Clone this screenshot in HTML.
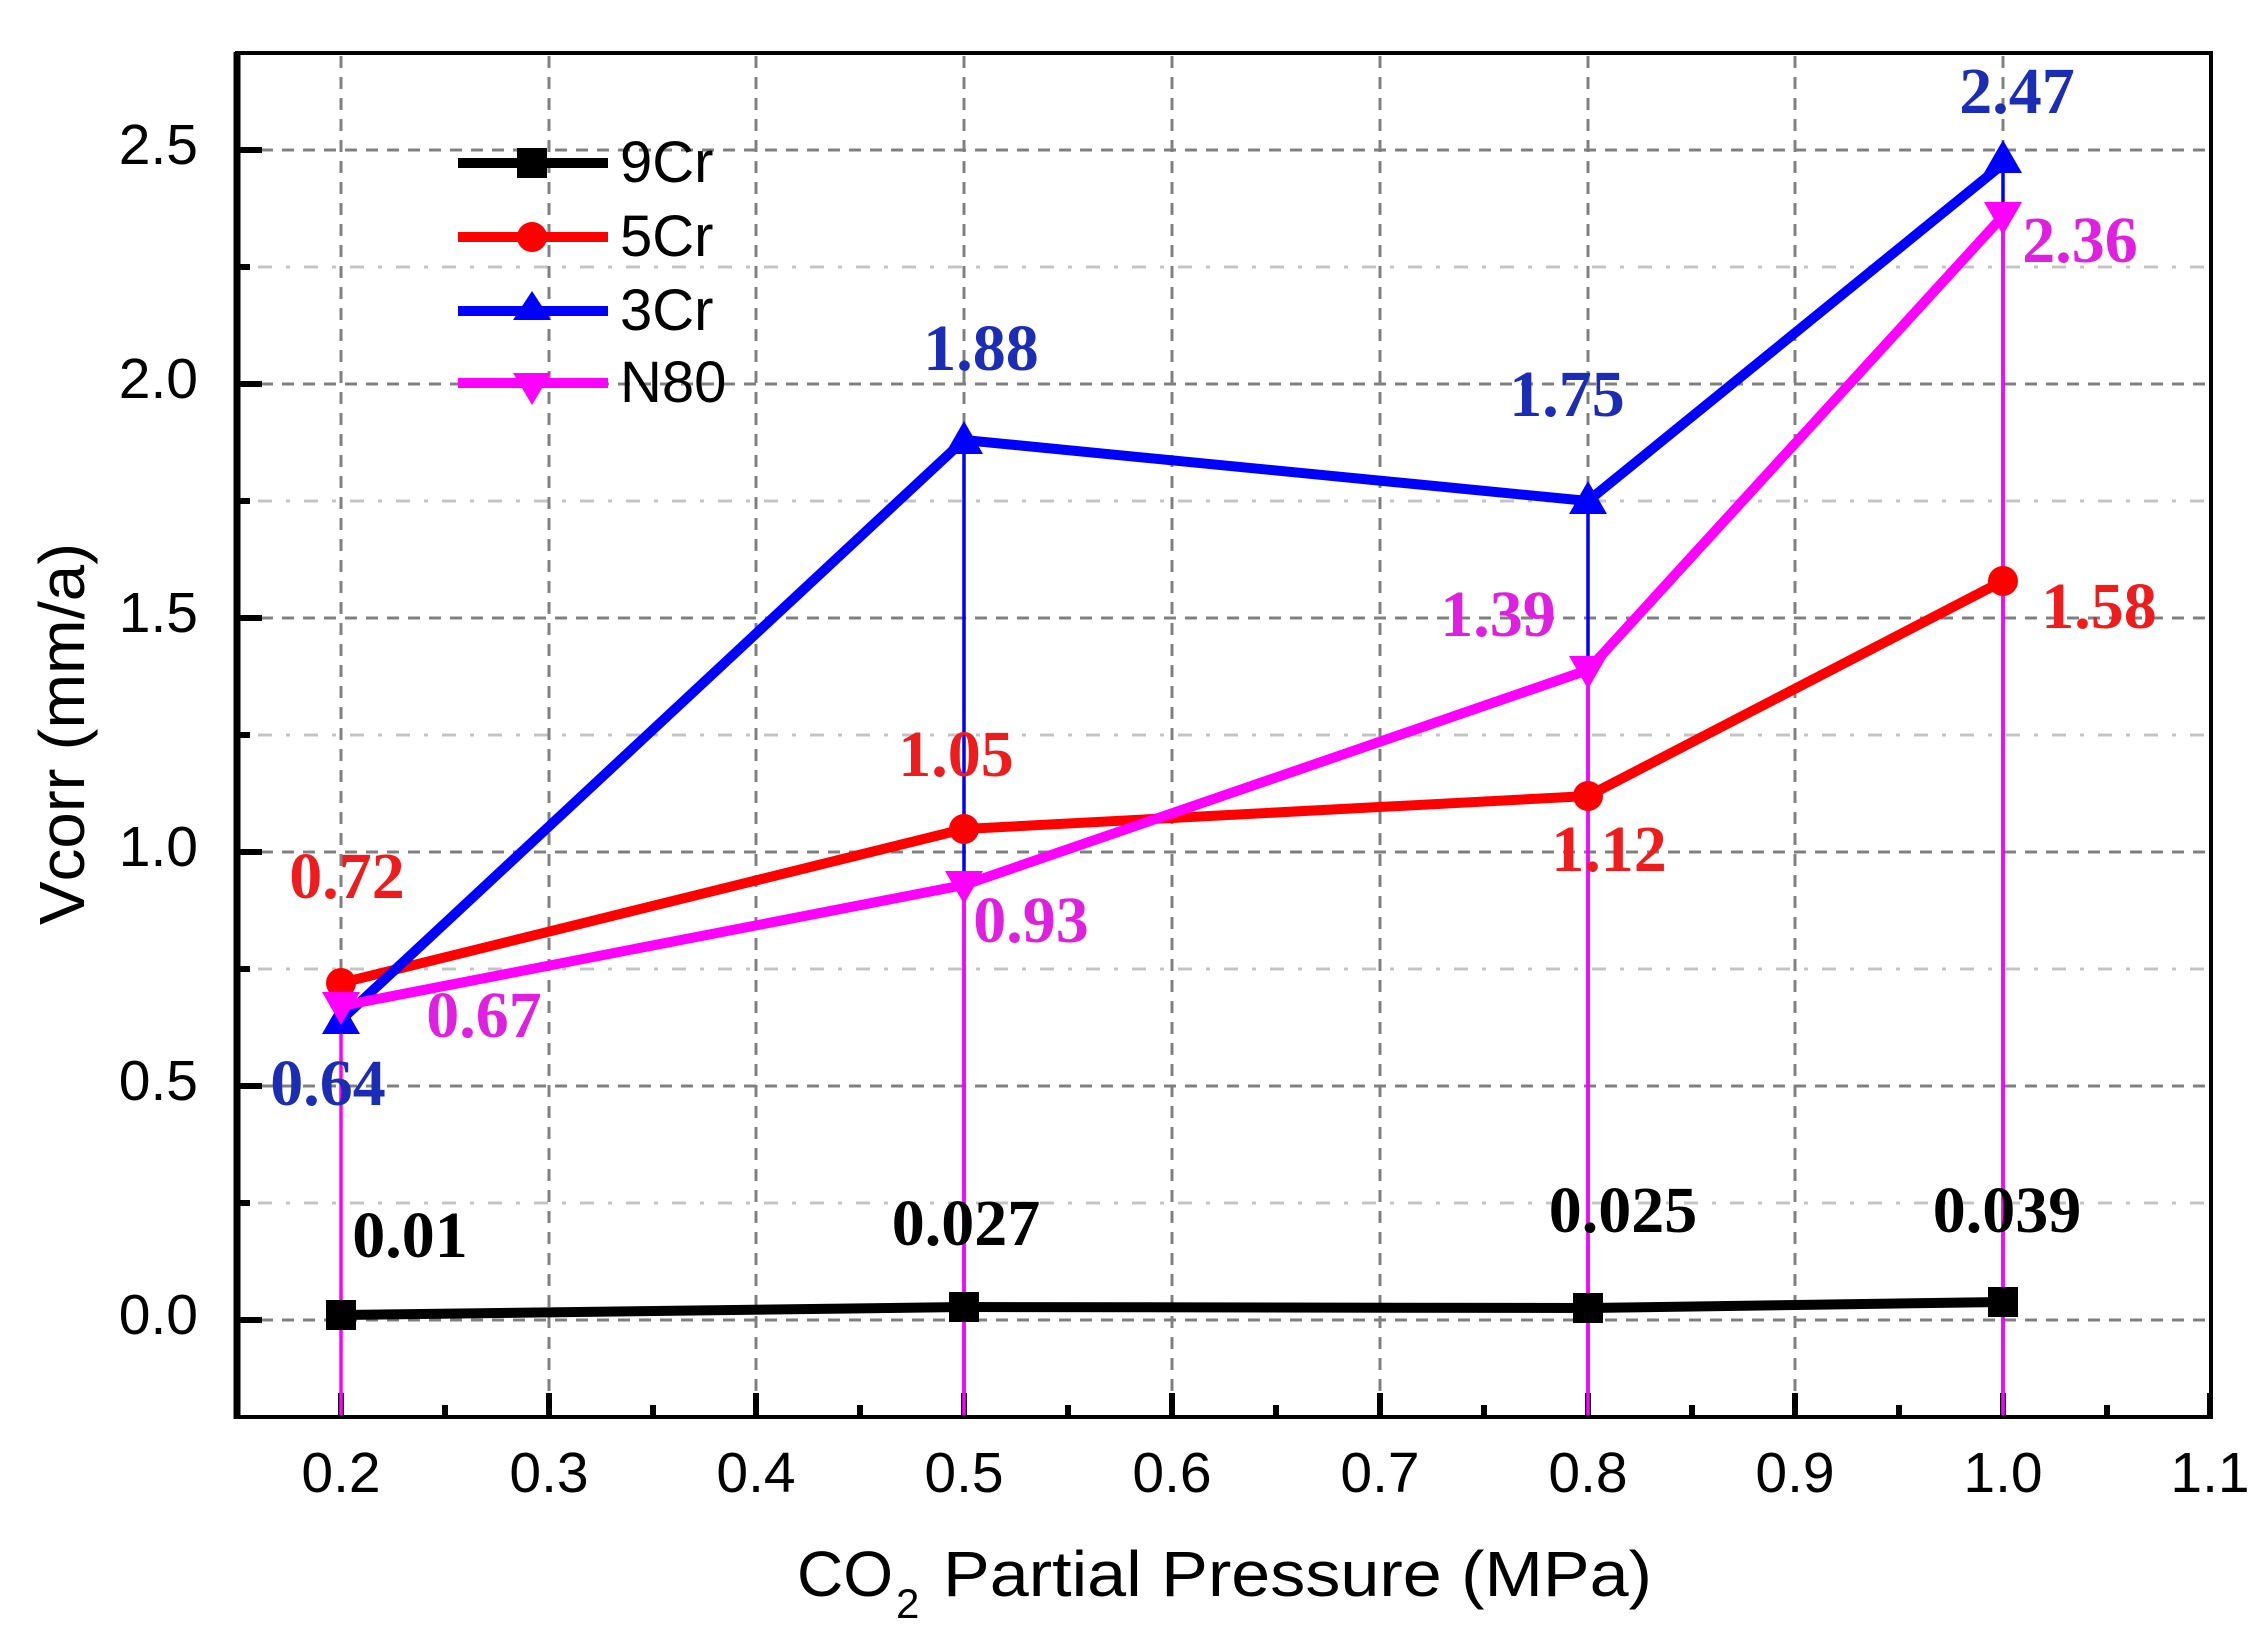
<!DOCTYPE html>
<html><head><meta charset="utf-8"><style>html,body{margin:0;padding:0;background:#fff}svg{display:block}</style></head>
<body>
<svg width="2266" height="1648" viewBox="0 0 2266 1648" xmlns="http://www.w3.org/2000/svg">
<rect width="2266" height="1648" fill="#fff"/>
<!-- minor horizontal grid (dotted) -->
<g stroke="#c4c4c4" stroke-width="3" stroke-dasharray="4 14 14 14" fill="none">
<line x1="240" y1="1203" x2="2208" y2="1203"/>
<line x1="240" y1="969" x2="2208" y2="969"/>
<line x1="240" y1="735" x2="2208" y2="735"/>
<line x1="240" y1="501" x2="2208" y2="501"/>
<line x1="240" y1="267" x2="2208" y2="267"/>
</g>
<!-- major horizontal grid (dashed) -->
<g stroke="#808080" stroke-width="3" stroke-dasharray="12 9" fill="none">
<line x1="240" y1="1320" x2="2208" y2="1320"/>
<line x1="240" y1="1086" x2="2208" y2="1086"/>
<line x1="240" y1="852" x2="2208" y2="852"/>
<line x1="240" y1="618" x2="2208" y2="618"/>
<line x1="240" y1="384" x2="2208" y2="384"/>
<line x1="240" y1="150" x2="2208" y2="150"/>
</g>
<!-- vertical grid -->
<g stroke="#808080" stroke-width="3" stroke-dasharray="12 9" fill="none">
<line x1="341" y1="56" x2="341" y2="1414"/>
<line x1="549" y1="56" x2="549" y2="1414"/>
<line x1="756" y1="56" x2="756" y2="1414"/>
<line x1="964" y1="56" x2="964" y2="1414"/>
<line x1="1172" y1="56" x2="1172" y2="1414"/>
<line x1="1380" y1="56" x2="1380" y2="1414"/>
<line x1="1588" y1="56" x2="1588" y2="1414"/>
<line x1="1795" y1="56" x2="1795" y2="1414"/>
<line x1="2003" y1="56" x2="2003" y2="1414"/>
</g>
<!-- ticks -->
<g stroke="#000" stroke-width="6">
<line x1="237" y1="1320" x2="262" y2="1320"/><line x1="237" y1="1086" x2="262" y2="1086"/><line x1="237" y1="852" x2="262" y2="852"/><line x1="237" y1="618" x2="262" y2="618"/><line x1="237" y1="384" x2="262" y2="384"/><line x1="237" y1="150" x2="262" y2="150"/>
<line x1="237" y1="1203" x2="250" y2="1203"/><line x1="237" y1="969" x2="250" y2="969"/><line x1="237" y1="735" x2="250" y2="735"/><line x1="237" y1="501" x2="250" y2="501"/><line x1="237" y1="267" x2="250" y2="267"/>
<line x1="341" y1="1417" x2="341" y2="1393"/><line x1="549" y1="1417" x2="549" y2="1393"/><line x1="756" y1="1417" x2="756" y2="1393"/><line x1="964" y1="1417" x2="964" y2="1393"/><line x1="1172" y1="1417" x2="1172" y2="1393"/><line x1="1380" y1="1417" x2="1380" y2="1393"/><line x1="1588" y1="1417" x2="1588" y2="1393"/><line x1="1795" y1="1417" x2="1795" y2="1393"/><line x1="2003" y1="1417" x2="2003" y2="1393"/><line x1="2210" y1="1417" x2="2210" y2="1393"/>
<line x1="445" y1="1417" x2="445" y2="1405"/><line x1="653" y1="1417" x2="653" y2="1405"/><line x1="860" y1="1417" x2="860" y2="1405"/><line x1="1068" y1="1417" x2="1068" y2="1405"/><line x1="1276" y1="1417" x2="1276" y2="1405"/><line x1="1484" y1="1417" x2="1484" y2="1405"/><line x1="1692" y1="1417" x2="1692" y2="1405"/><line x1="1899" y1="1417" x2="1899" y2="1405"/><line x1="2107" y1="1417" x2="2107" y2="1405"/>
</g>
<!-- frame -->
<line x1="235" y1="53" x2="2213" y2="53" stroke="#000" stroke-width="4"/>
<line x1="2211" y1="53" x2="2211" y2="1419" stroke="#000" stroke-width="4"/>
<line x1="235" y1="1417" x2="2213" y2="1417" stroke="#000" stroke-width="4"/>
<line x1="237" y1="52" x2="237" y2="1419" stroke="#000" stroke-width="7"/>
<!-- drop lines -->
<g stroke="#0000ff" stroke-width="3.5">
<line x1="964" y1="440" x2="964" y2="1415"/><line x1="1588" y1="500" x2="1588" y2="1415"/><line x1="2003" y1="164" x2="2003" y2="1415"/>
</g>
<g stroke="#ff00ff" stroke-width="3.5">
<line x1="341" y1="1006" x2="341" y2="1415"/><line x1="964" y1="885" x2="964" y2="1415"/><line x1="1588" y1="670" x2="1588" y2="1415"/><line x1="2003" y1="216" x2="2003" y2="1415"/>
</g>
<!-- series -->
<g fill="none" stroke-width="10" stroke-linejoin="round">
<polyline stroke="#000" points="341,1315 964,1307 1588,1308 2003,1302"/>
<polyline stroke="#ff0000" points="341,983 964,829 1588,796 2003,581"/>
<polyline stroke="#0000ff" points="341,1020 964,440 1588,501 2003,164"/>
<polyline stroke="#ff00ff" points="341,1006 964,885 1588,670 2003,216"/>
</g>
<g fill="#000"><rect x="326" y="1300" width="30" height="30"/><rect x="949" y="1292" width="30" height="30"/><rect x="1573" y="1293" width="30" height="30"/><rect x="1988" y="1287" width="30" height="30"/></g>
<g fill="#ff0000"><circle cx="341" cy="983" r="15"/><circle cx="964" cy="829" r="15"/><circle cx="1588" cy="796" r="15"/><circle cx="2003" cy="581" r="15"/></g>
<g fill="#0000ff"><polygon points="341,1001 322,1034 360,1034"/><polygon points="964,421 945,454 983,454"/><polygon points="1588,481 1569,514 1607,514"/><polygon points="2003,140 1984,173 2022,173"/></g>
<g fill="#ff00ff"><polygon points="341,1025 322,992 360,992"/><polygon points="964,904 945,871 983,871"/><polygon points="1588,689 1569,656 1607,656"/><polygon points="2003,235 1984,202 2022,202"/></g>
<!-- legend -->
<g stroke-width="10">
<line x1="458" y1="163" x2="608" y2="163" stroke="#000"/>
<line x1="458" y1="237" x2="608" y2="237" stroke="#ff0000"/>
<line x1="458" y1="311" x2="608" y2="311" stroke="#0000ff"/>
<line x1="458" y1="383" x2="608" y2="383" stroke="#ff00ff"/>
</g>
<rect x="517" y="148" width="30" height="30" fill="#000"/>
<circle cx="532" cy="237" r="15" fill="#ff0000"/>
<polygon points="532,291 513,320 551,320" fill="#0000ff"/>
<polygon points="532,405 513,373 551,373" fill="#ff00ff"/>
<g font-family="Liberation Sans, Arial, sans-serif" font-size="58" fill="#000">
<text x="620" y="182">9Cr</text>
<text x="620" y="256">5Cr</text>
<text x="620" y="330">3Cr</text>
<text x="620" y="402">N80</text>
</g>
<!-- tick labels -->
<g font-family="Liberation Sans, Arial, sans-serif" font-size="57" fill="#000" text-anchor="end">
<text x="198" y="1334">0.0</text><text x="198" y="1100">0.5</text><text x="198" y="866">1.0</text><text x="198" y="632">1.5</text><text x="198" y="398">2.0</text><text x="198" y="164">2.5</text>
</g>
<g font-family="Liberation Sans, Arial, sans-serif" font-size="57" fill="#000" text-anchor="middle">
<text x="341" y="1492">0.2</text><text x="549" y="1492">0.3</text><text x="756" y="1492">0.4</text><text x="964" y="1492">0.5</text><text x="1172" y="1492">0.6</text><text x="1380" y="1492">0.7</text><text x="1588" y="1492">0.8</text><text x="1795" y="1492">0.9</text><text x="2003" y="1492">1.0</text><text x="2210" y="1492">1.1</text>
</g>
<!-- axis titles -->
<g font-family="Liberation Sans, Arial, sans-serif" fill="#000">
<text x="797" y="1596" font-size="64">CO</text>
<text x="896" y="1618" font-size="42">2</text>
<text x="943" y="1596" font-size="64" textLength="709" lengthAdjust="spacingAndGlyphs">Partial Pressure (MPa)</text>
<text transform="translate(84,734) rotate(-90)" text-anchor="middle" font-size="64" textLength="382" lengthAdjust="spacingAndGlyphs">Vcorr (mm/a)</text>
</g>
<!-- data labels -->
<g font-family="Liberation Serif, Times New Roman, serif" font-weight="bold" font-size="66" text-anchor="middle">
<g fill="#000"><text x="410" y="1257">0.01</text><text x="966" y="1245">0.027</text><text x="1623" y="1232">0.025</text><text x="2007" y="1232">0.039</text></g>
<g fill="#ee1c1c"><text x="347" y="898">0.72</text><text x="956" y="776">1.05</text><text x="1609" y="871">1.12</text><text x="2099" y="628">1.58</text></g>
<g fill="#1c2db5"><text x="328" y="1105">0.64</text><text x="981" y="370">1.88</text><text x="1567" y="416">1.75</text><text x="2017" y="113">2.47</text></g>
<g fill="#e020e0"><text x="484" y="1037">0.67</text><text x="1031" y="942">0.93</text><text x="1498" y="636">1.39</text><text x="2080" y="262">2.36</text></g>
</g>
</svg>
</body></html>
